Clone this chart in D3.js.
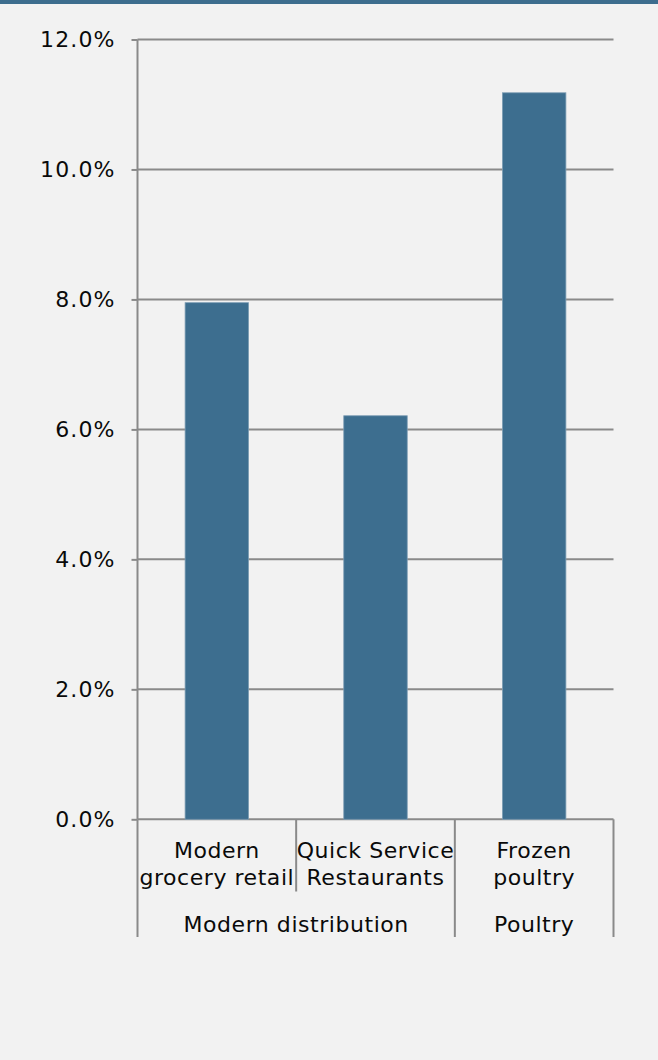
<!DOCTYPE html>
<html>
<head>
<meta charset="utf-8">
<script src="https://cdn.jsdelivr.net/npm/d3@7"></script>
<style>
  html, body { margin: 0; padding: 0; background: #f2f2f2; }
  svg { display: block; }
  text { font-family: "DejaVu Sans", Verdana, sans-serif; fill: #0a0a0a; }
</style>
</head>
<body>
<script>
// Growth rates by channel (percent)
const categories = [["Modern", "grocery retail"], ["Quick Service", "Restaurants"], ["Frozen", "poultry"]];
const values = [7.95, 6.21, 11.18];
const categoryGroup = [0, 0, 1];
const groupLabels = ["Modern distribution", "Poultry"];
const yTicks = [0, 2, 4, 6, 8, 10, 12];

const W = 658, H = 1060;
const plotLeft = 137.5, plotRight = 613.5, plotTop = 39.5, plotBottom = 819.3;
const axisColor = "#8a8a8a";
const barColor = "#3d6e8f";

const svg = d3.select("body").append("svg")
  .attr("width", W).attr("height", H);

svg.append("rect").attr("width", W).attr("height", H).attr("fill", "#f2f2f2");
// header band
svg.append("rect").attr("x", 0).attr("y", 0).attr("width", W).attr("height", 4).attr("fill", "#3d6d8e");

const y = d3.scaleLinear().domain([0, 12]).range([plotBottom, plotTop]);
const x = d3.scaleBand().domain(d3.range(categories.length))
  .range([plotLeft, plotRight]).paddingInner(0.6).paddingOuter(0.3);

// horizontal gridlines
svg.append("g").selectAll("line").data(yTicks).join("line")
  .attr("x1", plotLeft).attr("x2", plotRight)
  .attr("y1", d => y(d)).attr("y2", d => y(d))
  .attr("stroke", axisColor).attr("stroke-width", 2);

// y axis with tick labels
const yAxis = svg.append("g").attr("transform", `translate(${plotLeft},0)`)
  .call(d3.axisLeft(y).tickValues(yTicks).tickSize(6).tickPadding(16)
    .tickFormat(d => d.toFixed(1) + "%"));
yAxis.select(".domain").remove();
yAxis.selectAll(".tick line").attr("stroke", axisColor).attr("stroke-width", 2);
yAxis.selectAll(".tick text")
  .style("font-family", "DejaVu Sans, Verdana, sans-serif")
  .style("font-size", "22px").style("letter-spacing", "1.1px")
  .attr("fill", "#0a0a0a");

// bars
svg.append("g").selectAll("rect").data(values).join("rect")
  .attr("x", (d, i) => x(i))
  .attr("y", d => y(d))
  .attr("width", x.bandwidth())
  .attr("height", d => y(0) - y(d))
  .attr("fill", barColor)
  .attr("stroke", "#7d9db4").attr("stroke-width", 0.8);

// vertical axis line
svg.append("line")
  .attr("x1", plotLeft).attr("x2", plotLeft).attr("y1", plotTop).attr("y2", plotBottom)
  .attr("stroke", axisColor).attr("stroke-width", 2);

// category dividers: group boundaries run through both label rows
const step = x.step();
const rowBottom = 891.5, groupBottom = 937;
const boundaries = d3.range(categories.length + 1).map(i => ({
  x: plotLeft + i * step,
  isGroup: i === 0 || i === categories.length || categoryGroup[i] !== categoryGroup[i - 1]
}));
svg.append("g").selectAll("line").data(boundaries).join("line")
  .attr("x1", d => d.x).attr("x2", d => d.x)
  .attr("y1", plotBottom).attr("y2", d => d.isGroup ? groupBottom : rowBottom)
  .attr("stroke", axisColor).attr("stroke-width", 2);

// category labels (two lines each)
const labelStyle = sel => sel
  .attr("text-anchor", "middle")
  .style("font-size", "22px").style("letter-spacing", "0.55px");

svg.append("g").selectAll("text").data(categories).join("text")
  .call(labelStyle)
  .attr("x", (d, i) => x(i) + x.bandwidth() / 2)
  .attr("y", 857.7)
  .selectAll("tspan").data(d => d).join("tspan")
  .attr("x", function () { return d3.select(this.parentNode).attr("x"); })
  .attr("dy", (d, j) => j === 0 ? 0 : 27.5)
  .text(d => d);

// group labels
const groups = groupLabels.map((g, gi) => {
  const idx = d3.range(categories.length).filter(i => categoryGroup[i] === gi);
  return { label: g, x0: plotLeft + idx[0] * step, x1: plotLeft + (idx[idx.length - 1] + 1) * step };
});
svg.append("g").selectAll("text").data(groups).join("text")
  .call(labelStyle)
  .attr("x", d => (d.x0 + d.x1) / 2)
  .attr("y", 931.7)
  .text(d => d.label);
</script>
</body>
</html>
